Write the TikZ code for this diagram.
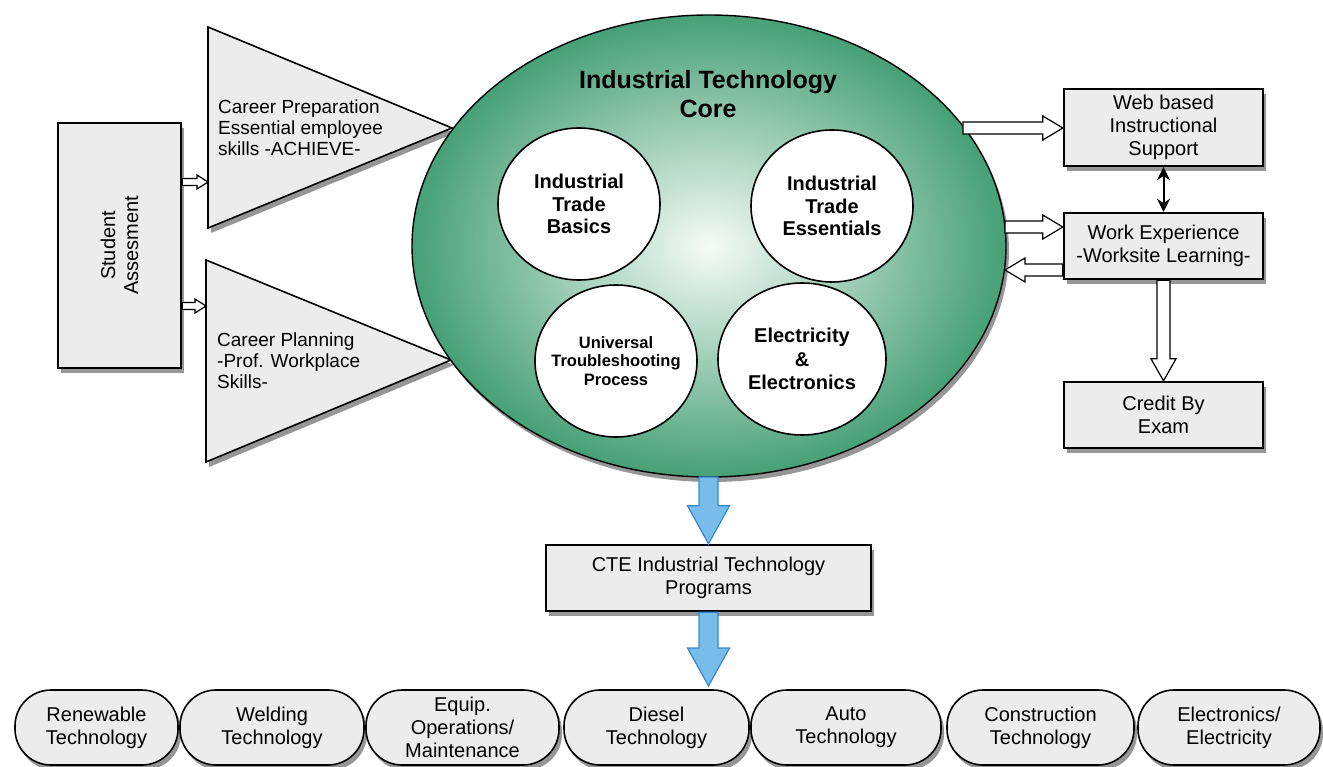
\documentclass[tikz,border=0pt]{standalone}
\usepackage{fontspec}
\setmainfont{Liberation Sans}
\usetikzlibrary{shapes.geometric,shadows,calc,arrows.meta}
\definecolor{boxgray}{RGB}{236,236,236}
\definecolor{coregreen}{RGB}{70,160,118}
\definecolor{corecenter}{RGB}{246,251,248}
\definecolor{bluefill}{RGB}{120,188,236}
\definecolor{blueline}{RGB}{55,135,205}
\definecolor{shadowgray}{RGB}{150,150,150}
% block arrow: [style]{from}{to}{shaft half width}{head half width}{head length}
\newcommand\blockarrow[6][]{%
  \filldraw[#1] let \p1=(#2), \p2=(#3),
    \n1={veclen(\x2-\x1,\y2-\y1)}, \n2={atan2(\y2-\y1,\x2-\x1)} in
    [shift={(\p1)}, rotate=\n2]
    (0pt,#4pt) -- ({\n1-#6pt},#4pt) -- ({\n1-#6pt},#5pt) -- ({\n1+0pt},0pt)
    -- ({\n1-#6pt},-#5pt) -- ({\n1-#6pt},-#4pt) -- (0pt,-#4pt) -- cycle;}
\begin{document}
\begin{tikzpicture}[x=1pt,y=-1pt,
  shadowed/.style={drop shadow={shadow xshift=3pt,shadow yshift=-5pt,fill=shadowgray,opacity=1}},
  grayshape/.style={fill=boxgray,draw=black,line width=1.6pt},
  box/.style={rectangle,grayshape,line width=2.4pt,shadowed,inner sep=0pt,align=center,
    font=\fontsize{20}{23}\selectfont},
  prog/.style={rectangle,rounded corners=36pt,grayshape,line width=1.6pt,shadowed,
    minimum height=75pt,inner sep=0pt,align=center,font=\fontsize{20}{23}\selectfont},
  bubble/.style={ellipse,draw=black,line width=1.6pt,fill=white,minimum width=162pt,
    minimum height=152pt,inner sep=-14pt,align=center,font=\fontsize{20}{22.5}\selectfont\bfseries},
  tritext/.style={anchor=west,align=left,inner sep=0pt,font=\fontsize{19}{21}\selectfont},
  whitearrow/.style={fill=white,draw=black,line width=1.2pt},
  bluearrow/.style={fill=bluefill,draw=blueline,line width=1.2pt},
]
\useasboundingbox (0,0) rectangle (1323,767);

% triangles
\coordinate (t1a) at (208,27); \coordinate (t1b) at (208,228); \coordinate (t1c) at (452,128);
\filldraw[grayshape,shadowed] (t1a) -- (t1c) -- (t1b) -- cycle;
\coordinate (t2a) at (206,260); \coordinate (t2b) at (206,462); \coordinate (t2c) at (451,360);
\filldraw[grayshape,shadowed] (t2a) -- (t2c) -- (t2b) -- cycle;
\node[tritext] (prep) at (218,128) {Career Preparation\\Essential employee\\skills -ACHIEVE-};
\node[tritext] (plan) at (217,361) {Career Planning\\-Prof. Workplace\\Skills-};

% core ellipse
\node[ellipse,draw=black,line width=1.4pt,minimum width=594pt,minimum height=462pt,inner sep=0pt,
  shading=radial,inner color=corecenter,outer color=coregreen,shadowed] (core) at (709,246) {};
\node[font=\fontsize{25}{29}\selectfont\bfseries,align=center] (title) at (708,94.5)
  {Industrial Technology\\Core};
\node[bubble] (itb) at (579,204) {Industrial\\Trade\\Basics};
\node[bubble] (ite) at (832,206) {Industrial\\Trade\\Essentials};
\node[bubble,font=\fontsize{16.5}{18.5}\selectfont\bfseries] (utp) at (616,361)
  {Universal\\Troubleshooting\\Process};
\node[bubble,minimum width=168pt,font=\fontsize{20}{23.5}\selectfont\bfseries] (ee) at (802,359)
  {Electricity\\\&\\Electronics};

% student box
\node[box,minimum width=123pt,minimum height=245pt] (student) at (119.5,245.5) {};
\node[rotate=90,align=center,font=\fontsize{20}{23}\selectfont] (studenttext) at (student.center)
  {Student\\Assesment};

% right boxes
\node[box,minimum width=199pt,minimum height=77pt] (web) at (1163.5,127.5)
  {Web based\\Instructional\\Support};
\node[box,minimum width=199pt,minimum height=66pt] (work) at (1163.5,246)
  {Work Experience\\-Worksite Learning-};
\node[box,minimum width=199pt,minimum height=66pt] (credit) at (1163.5,415)
  {Credit By\\Exam};

% CTE box
\node[box,minimum width=325pt,minimum height=66pt] (cte) at (708.5,578)
  {CTE Industrial Technology\\Programs};

% programs
\node[prog,minimum width=163pt] (prog1) at (96.5,727.5) {Renewable\\Technology};
\node[prog,minimum width=184pt] (prog2) at (272,727.5) {Welding\\Technology};
\node[prog,minimum width=193pt] (prog3) at (462.5,727.5) {Equip.\\Operations/\\Maintenance};
\node[prog,minimum width=185pt] (prog4) at (656.5,727.5) {Diesel\\Technology};
\node[prog,minimum width=190pt] (prog5) at (846,727.5) {Auto\\Technology};
\node[prog,minimum width=187pt] (prog6) at (1040.5,727.5) {Construction\\Technology};
\node[prog,minimum width=182pt] (prog7) at (1229,727.5) {Electronics/\\Electricity};

% arrows left
\coordinate (la) at (208,182);
\blockarrow[whitearrow]{student.east |- la}{la}{3.5}{7}{11}
\coordinate (lb) at (206,306);
\blockarrow[whitearrow]{student.east |- lb}{lb}{3.5}{7}{11}

% arrows right
\coordinate (ca) at (963,128);
\blockarrow[whitearrow]{ca}{ca -| web.west}{6}{12}{20}
\coordinate (cb) at (1005,227);
\blockarrow[whitearrow]{cb}{cb -| work.west}{6}{12}{20}
\coordinate (cc) at (1005,270);
\blockarrow[whitearrow]{cc -| work.west}{cc}{6}{12}{20}
\blockarrow[whitearrow]{work.south}{credit.north}{6.5}{12.5}{22}
\draw[{Stealth[length=13pt,width=13pt]}-{Stealth[length=13pt,width=13pt]},line width=2pt]
  (web.south) -- (work.north);

% blue arrows
\coordinate (coreout) at (708.5,477);
\blockarrow[bluearrow]{coreout}{cte.north}{9.5}{21}{38}
\coordinate (bt) at (708.5,686);
\blockarrow[bluearrow]{cte.south}{bt}{9.5}{21}{38}
\end{tikzpicture}
\end{document}
